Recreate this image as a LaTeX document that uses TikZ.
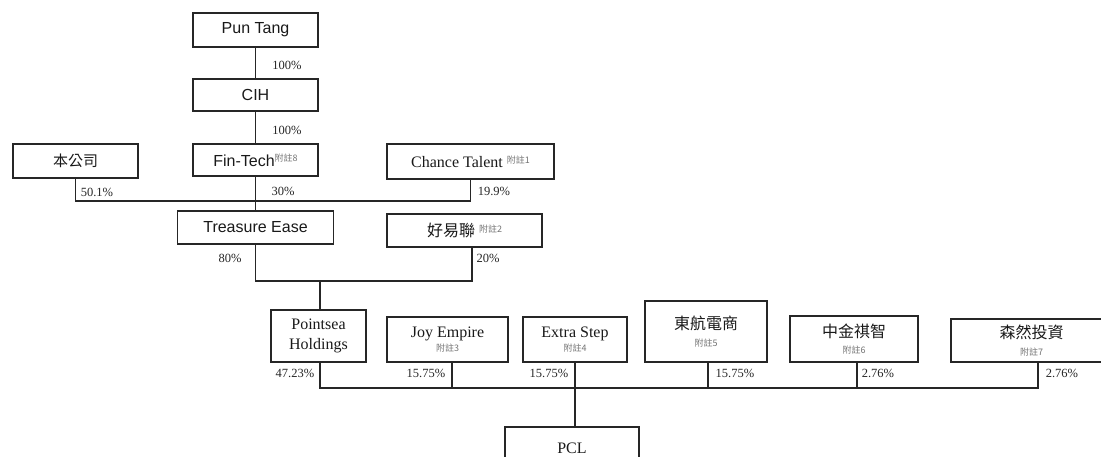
\documentclass[tikz,border=0pt]{standalone}
\usepackage{fontspec}
\setmainfont{Liberation Serif}
\newfontfamily\arialf{Liberation Sans}
\newfontfamily\cjkf{Noto Sans CJK TC}
\newcommand\fnote[1]{{\cjkf\fontsize{9}{10}\selectfont\color{black!55}附註#1}}
\tikzset{
  box/.style={draw=black!85, line width=1.2pt, inner sep=0pt, align=center,
    font=\fontsize{16}{18}\selectfont, text=black!90},
  sbox/.style={box, font=\arialf\fontsize{16}{18}\selectfont},
  pct/.style={font=\fontsize{12.5}{14}\selectfont, text=black!85, inner sep=0pt},
  link/.style={draw=black!85, line width=1.2pt},
}
\begin{document}
\begin{tikzpicture}[x=1pt,y=-1pt]
\useasboundingbox (0,0) rectangle (1101,456);
\clip (0,0) rectangle (1101,456);
% boxes
\node[sbox, minimum width=125pt, minimum height=34pt] (puntang) at (255.5,30) {Pun Tang};
\node[sbox, minimum width=125pt, minimum height=32pt] (cih) at (255.5,95) {CIH};
\node[sbox, minimum width=125pt, minimum height=32pt] (fintech) at (255.5,160) {Fin-Tech\raisebox{5pt}{\fnote{8}}};
\node[box, minimum width=125pt, minimum height=34pt, font=\cjkf\fontsize{15}{17}\selectfont] (benco) at (75.5,161) {本公司};
\node[box, minimum width=167pt, minimum height=35pt] (chance) at (470.5,161.5) {Chance Talent \raisebox{4pt}{\fnote{1}}};
\node[sbox, minimum width=156pt, minimum height=33pt] (treasure) at (255.5,227.5) {Treasure Ease};
\node[box, minimum width=155pt, minimum height=33pt] (haoyi) at (464.5,230.5) {{\cjkf 好易聯} \raisebox{4pt}{\fnote{2}}};
\node[box, minimum width=95pt, minimum height=52pt] (pointsea) at (318.5,336) {Pointsea\\[2pt]Holdings};
\node[box, minimum width=121pt, minimum height=45pt] (joy) at (447.5,339.5) {Joy Empire\\[-4pt]\fnote{3}};
\node[box, minimum width=104pt, minimum height=45pt] (extra) at (575,339.5) {Extra Step\\[-4pt]\fnote{4}};
\node[box, minimum width=122pt, minimum height=61pt] (dong) at (706,331.5) {{\cjkf 東航電商}\\[-1pt]\fnote{5}};
\node[box, minimum width=128pt, minimum height=46pt] (zhong) at (854,339) {{\cjkf 中金祺智}\\[-2pt]\fnote{6}};
\node[box, minimum width=161pt, minimum height=43pt] (sen) at (1031.5,340.5) {{\cjkf 森然投資}\\[-1pt]\fnote{7}};
\node[box, minimum width=134pt, minimum height=43pt] (pcl) at (572,448.5) {PCL};
% percentages
\node[pct] (p1) at (287,65) {100\%};
\node[pct] (p2) at (287,130) {100\%};
\node[pct] (p3) at (97,192) {50.1\%};
\node[pct] (p4) at (283,191) {30\%};
\node[pct] (p5) at (494,191) {19.9\%};
\node[pct] (p6) at (230,258) {80\%};
\node[pct] (p7) at (488,258) {20\%};
\node[pct] (p8) at (295,373) {47.23\%};
\node[pct] (p9) at (426,373) {15.75\%};
\node[pct] (p10) at (549,373) {15.75\%};
\node[pct] (p11) at (735,373) {15.75\%};
\node[pct] (p12) at (878,373) {2.76\%};
\node[pct] (p13) at (1062,373) {2.76\%};
% junctions
\coordinate (j1) at (255.5,201);
\coordinate (j2) at (320,281);
\coordinate (hA) at (472,247);
\coordinate (busL) at (320,388);
\coordinate (busR) at (1038,388);
% connectors
\draw[link] (puntang) -- (cih);
\draw[link] (cih) -- (fintech);
\draw[link] (fintech) -- (treasure);
\draw[link] (benco.south) |- (j1) -| (chance.south);
\draw[link] (treasure.south) |- (j2) -| (hA);
\draw[link] (j2) -- (pointsea.north -| j2);
\draw[link] (pointsea.north -| busL) ++(0,52) -- (busL) -- (busR) -- (busR |- sen.south);
\draw[link] ([xshift=4.5pt]joy.south) |- (busL);
\draw[link] ([xshift=2pt]dong.south) |- (busR);
\draw[link] ([xshift=3pt]zhong.south) |- (busR);
\draw[link] (extra.south) -- (extra.south |- pcl.north);
\end{tikzpicture}
\end{document}
